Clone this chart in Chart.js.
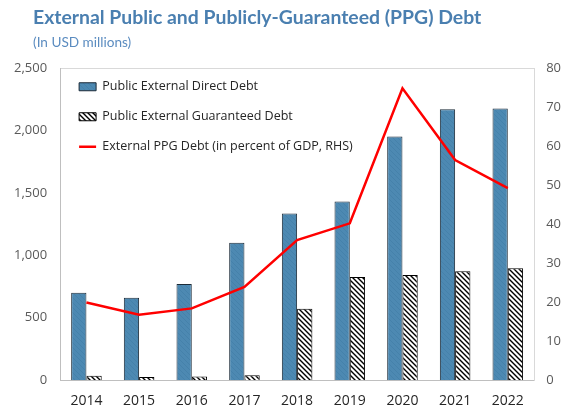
<!DOCTYPE html>
<html>
<head>
<meta charset="utf-8">
<script src="https://cdn.jsdelivr.net/npm/chart.js@4"></script>
<style>
  html, body { margin: 0; padding: 0; background: #fff; }
  #wrap { position: relative; width: 570px; height: 409px; }
  #title { position: absolute; left: 33px; top: 5px; font: bold 19.4px Lato, sans-serif; color: #4a7fb0; white-space: nowrap; }
  #subtitle { position: absolute; left: 33px; top: 34px; font: 13.6px Lato, sans-serif; color: #5b8cc0; white-space: nowrap; }
  canvas { position: absolute; left: 0; top: 0; }
</style>
</head>
<body>
<div id="wrap">
  <canvas id="chart" width="570" height="409"></canvas>
  <div id="title">External Public and Publicly-Guaranteed (PPG) Debt</div>
  <div id="subtitle">(In USD millions)</div>
</div>
<script>
const years = ['2014', '2015', '2016', '2017', '2018', '2019', '2020', '2021', '2022'];
const directDebt = [700, 660, 770, 1100, 1335, 1430, 1952, 2170, 2175];
const guaranteedDebt = [35, 25, 30, 40, 572, 826, 842, 873, 897];
const ppgDebtPctGdp = [19.9, 16.8, 18.4, 23.9, 35.9, 40.2, 74.8, 56.4, 49.2];

// fill patterns for the two bar series
function makePattern(bg, fg, size, width) {
  const c = document.createElement('canvas');
  c.width = size;
  c.height = size;
  const g = c.getContext('2d');
  g.fillStyle = bg;
  g.fillRect(0, 0, size, size);
  g.strokeStyle = fg;
  g.lineWidth = width;
  g.beginPath();
  g.moveTo(-1, -1); g.lineTo(size + 1, size + 1);
  g.moveTo(-1, size - 1); g.lineTo(1, size + 1);
  g.moveTo(size - 1, -1); g.lineTo(size + 1, 1);
  g.stroke();
  return g.createPattern(c, 'repeat');
}

const ctx = document.getElementById('chart').getContext('2d');
const bluePattern = makePattern('#4d89b2', '#4581aa', 5, 1);
const hatchPattern = makePattern('#ffffff', '#000000', 5, 1.4);

// legend sits inside the plot area, top left corner
const legendNudge = {
  id: 'legendNudge',
  afterLayout(chart) {
    const area = chart.chartArea;
    chart.legend.top = area.top - 5;
    chart.legend.left = area.left + 1.5;
    chart.legend.bottom = area.bottom;
    chart.legend.right = area.right;
  }
};

new Chart(ctx, {
  type: 'bar',
  data: {
    labels: years,
    datasets: [
      {
        label: 'Public External Direct Debt',
        data: directDebt,
        backgroundColor: bluePattern,
        borderColor: '#1c2b38',
        borderWidth: 1,
        pointStyle: 'rect',
        yAxisID: 'y',
        order: 1
      },
      {
        label: 'Public External Guaranteed Debt',
        data: guaranteedDebt,
        backgroundColor: hatchPattern,
        borderColor: '#000000',
        borderWidth: 1,
        pointStyle: 'rect',
        yAxisID: 'y',
        order: 1
      },
      {
        type: 'line',
        label: 'External PPG Debt (in percent of GDP, RHS)',
        data: ppgDebtPctGdp,
        borderColor: '#ff0000',
        backgroundColor: '#ff0000',
        borderWidth: 2.5,
        pointRadius: 0,
        pointStyle: 'line',
        tension: 0,
        yAxisID: 'y1',
        order: 0
      }
    ]
  },
  options: {
    responsive: false,
    animation: false,
    layout: {
      padding: { top: 68, left: 1, right: -3, bottom: -12 }
    },
    datasets: {
      bar: {
        barPercentage: 1,
        categoryPercentage: 0.58
      }
    },
    plugins: {
      legend: {
        position: 'chartArea',
        align: 'start',
        labels: {
          usePointStyle: true,
          pointStyleWidth: 17,
          boxWidth: 17,
          boxHeight: 8,
          padding: 17.5,
          color: '#262626',
          font: { family: 'Open Sans', size: 12.5 },
          sort: (a, b) => a.datasetIndex - b.datasetIndex
        }
      },
      tooltip: { enabled: false }
    },
    scales: {
      x: {
        grid: { display: false, drawTicks: false },
        border: { color: '#bfbfbf', width: 1 },
        ticks: {
          color: '#262626',
          padding: 12,
          font: { family: 'Open Sans', size: 14 }
        }
      },
      x2: {
        position: 'top',
        grid: { display: false, drawTicks: false },
        border: { color: '#d9d9d9', width: 1 },
        ticks: { display: false }
      },
      y: {
        position: 'left',
        min: 0,
        max: 2500,
        grid: { display: false, drawTicks: false },
        border: { color: '#bfbfbf', width: 1 },
        ticks: {
          stepSize: 500,
          color: '#595959',
          padding: 13,
          font: { family: 'Open Sans', size: 13 }
        }
      },
      y1: {
        position: 'right',
        min: 0,
        max: 80,
        grid: { display: false, drawTicks: false },
        border: { color: '#d9d9d9', width: 1 },
        ticks: {
          stepSize: 10,
          color: '#595959',
          padding: 12,
          font: { family: 'Open Sans', size: 13 }
        }
      }
    }
  },
  plugins: [legendNudge]
});
</script>
</body>
</html>
